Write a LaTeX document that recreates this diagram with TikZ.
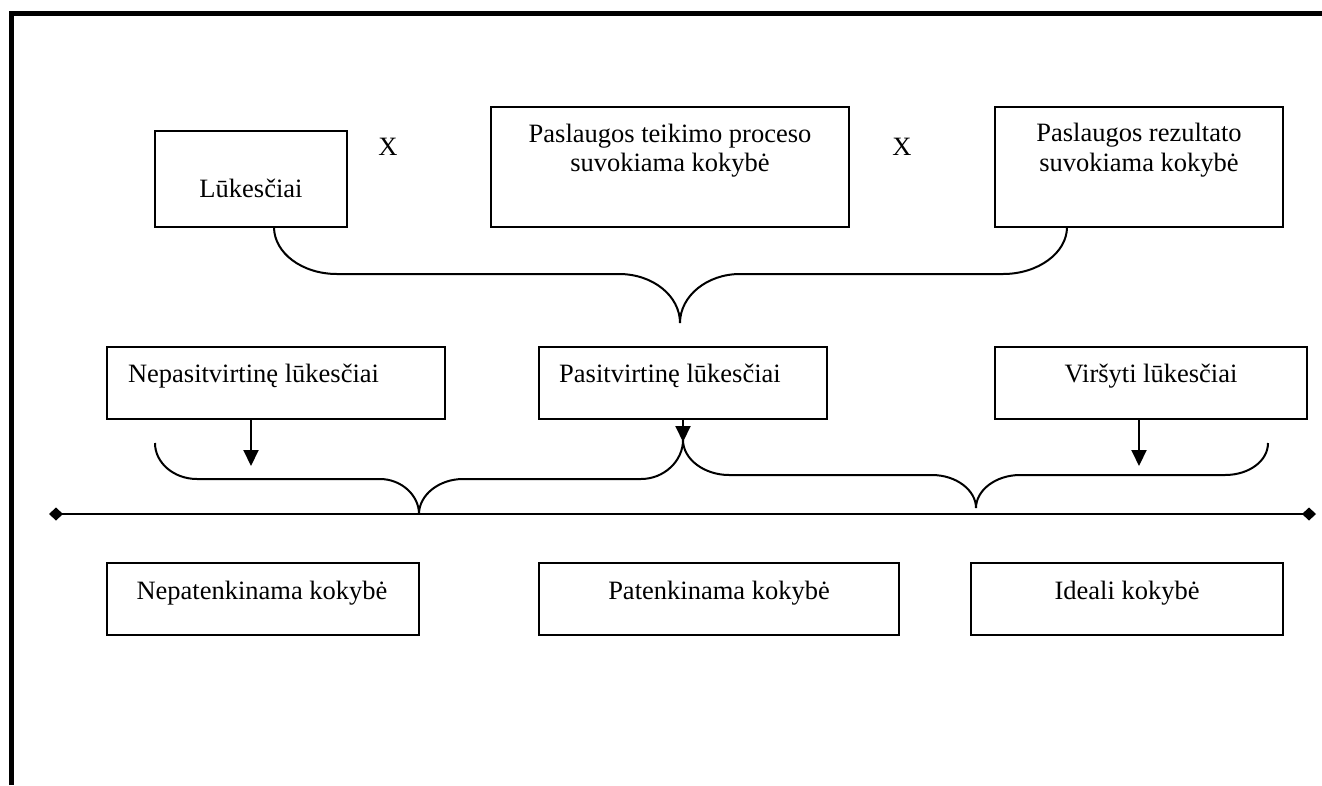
\documentclass[tikz,border=0pt]{standalone}
\usepackage{fontspec}
\setmainfont{Liberation Serif}
\usetikzlibrary{arrows.meta}
\begin{document}
\begin{tikzpicture}[x=1pt,y=-1pt,
  box/.style={draw, line width=2pt, inner sep=0pt},
  txt/.style={inner sep=0pt, anchor=base, font=\fontsize{26.5}{30}\selectfont},
  brace/.style={line width=2pt},
  down/.style={line width=2pt, -{Triangle[length=16pt,width=15pt]}},
  axis/.style={line width=2.5pt, {Diamond[length=14pt,width=13pt]}-{Diamond[length=14pt,width=13pt]}}
]
\useasboundingbox (0,0) rectangle (1322,785);
% frame
\draw[line width=4.5pt] (11.3,785) -- (11.3,13.3) -- (1322,13.3);

% top row
\node[box, minimum width=192pt, minimum height=96pt] (luk) at (251,179) {};
\node[txt] (tluk) at (251,197) {Lūkesčiai};
\node[txt] (x1) at (388,155) {X};
\node[box, minimum width=358pt, minimum height=120pt] (proc) at (670,167) {};
\node[txt] (tproca) at (670,142) {Paslaugos teikimo proceso};
\node[txt] (tprocb) at (670,171) {suvokiama kokybė};
\node[txt] (x2) at (902,155) {X};
\node[box, minimum width=288pt, minimum height=120pt] (rez) at (1139,167) {};
\node[txt] (treza) at (1139,141) {Paslaugos rezultato};
\node[txt] (trezb) at (1139,171) {suvokiama kokybė};

% top brace
\coordinate (ba) at (274,227);
\coordinate (bt) at (680,323);
\coordinate (bb) at (1067,227);
\draw[brace] (ba) .. controls (274,253) and (302,274) .. (337,274) -- (619,274)
  .. controls (653,274) and (680,296) .. (bt)
  .. controls (680,296) and (707,274) .. (740,274) -- (1003,274)
  .. controls (1038,274) and (1067,253) .. (bb);

% middle row
\node[box, minimum width=338pt, minimum height=72pt] (nep) at (276,383) {};
\node[txt] (tnep) at (253.5,382) {Nepasitvirtinę lūkesčiai};
\node[box, minimum width=288pt, minimum height=72pt] (pas) at (683,383) {};
\node[txt] (tpas) at (670,382) {Pasitvirtinę lūkesčiai};
\node[box, minimum width=312pt, minimum height=72pt] (vir) at (1151,383) {};
\node[txt] (tvir) at (1151,382) {Viršyti lūkesčiai};

% arrows
\coordinate (anep) at (251,466);
\coordinate (apas) at (683,442);
\coordinate (avir) at (1139,466);
\draw[down] (nep.south -| anep) -- (anep);
\draw[down] (pas.south) -- (apas);
\draw[down] (vir.south -| avir) -- (avir);

% lower braces
\coordinate (la) at (155,443);
\coordinate (lt) at (419,514);
\coordinate (lb) at (683,440);
\coordinate (rt) at (976,508);
\coordinate (rb) at (1268,443);
\draw[brace] (la) .. controls (155,463) and (174,479) .. (197,479) -- (380,479)
  .. controls (401,479) and (419,495) .. (lt)
  .. controls (419,495) and (439,479) .. (463,479) -- (641,479)
  .. controls (664,479) and (683,461) .. (lb);
\draw[brace] (lb) .. controls (683,459) and (704,475) .. (729,475) -- (932,475)
  .. controls (956,475) and (976,490) .. (rt)
  .. controls (976,490) and (996,475) .. (1020,475) -- (1225,475)
  .. controls (1249,475) and (1268,461) .. (rb);

% axis
\coordinate (L) at (49,514);
\coordinate (R) at (1316,514);
\draw[axis] (L) -- (R);

% bottom row
\node[box, minimum width=312pt, minimum height=72pt] (nepat) at (263,599) {};
\node[txt] (tnepat) at (262,599) {Nepatenkinama kokybė};
\node[box, minimum width=360pt, minimum height=72pt] (pat) at (719,599) {};
\node[txt] (tpat) at (719,599) {Patenkinama kokybė};
\node[box, minimum width=312pt, minimum height=72pt] (ideal) at (1127,599) {};
\node[txt] (tideal) at (1127,599) {Ideali kokybė};
\end{tikzpicture}
\end{document}
